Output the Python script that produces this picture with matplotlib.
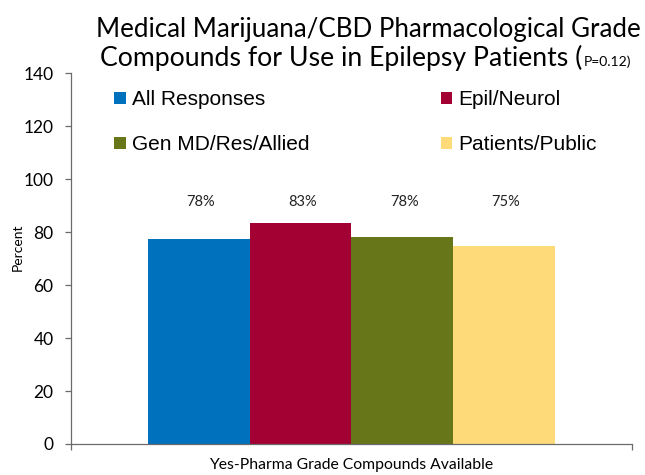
import numpy as np
import matplotlib.pyplot as plt
from matplotlib.patches import Patch

groups = ["All Responses", "Epil/Neurol", "Gen MD/Res/Allied", "Patients/Public"]
values = [77.5, 83.3, 78.1, 74.8]
labels = ["78%", "83%", "78%", "75%"]
category = "Yes-Pharma Grade Compounds Available"
colors = ["#0071BD", "#A30034", "#677619", "#FEDA78"]

AX_COL = "#6b6b6b"
fig = plt.figure(figsize=(6.45, 4.75), dpi=100)
ax = fig.add_axes([0.1096, 0.0653, 0.8705, 0.7802])

x = np.arange(len(groups))
ax.bar(x, values, width=1.0, color=colors, edgecolor="none")
for xi, lab in zip(x, labels):
    ax.text(xi + 0.02, 91.5, lab, ha="center", va="center", fontsize=10.5,
            family="Lato", color="#222222")

ax.set_xlim(-1.26, 4.26)
ax.set_ylim(0, 140)
ax.set_yticks(range(0, 141, 20))
ax.tick_params(axis="y", labelsize=12.5, length=4.3, width=0.9, pad=8, color=AX_COL)
for t in ax.get_yticklabels():
    t.set_family("Lato")
ax.set_xticks([1.5])
ax.set_xticklabels([category], fontsize=11.3, family="Lato")
ax.tick_params(axis="x", which="major", length=0, pad=10)
ax.set_xticks([-1.26, 4.26], minor=True)
ax.tick_params(axis="x", which="minor", length=4.5, width=0.9, color=AX_COL)
ax.set_ylabel("Percent", fontsize=10, family="Lato")
ax.yaxis.set_label_coords(-0.084, 0.53)
ax.spines[["top", "right"]].set_visible(False)
ax.spines["left"].set_color(AX_COL)
ax.spines["bottom"].set_color(AX_COL)
ax.spines["left"].set_linewidth(0.9)
ax.spines["bottom"].set_linewidth(0.9)

# legend rows: All Responses / Epil/Neurol, then Gen MD / Patients
order = [0, 2, 1, 3]
handles = [Patch(facecolor=colors[i], label=groups[i]) for i in order]
leg = ax.legend(handles=handles, ncol=2, loc="upper left", bbox_to_anchor=(0.044, 1.005),
                frameon=False, prop={"family": "Liberation Sans", "size": 15},
                handlelength=0.55, handleheight=0.55, handletextpad=0.3,
                columnspacing=6.3, labelspacing=1.25)

fig.text(0.571, 0.9386, "Medical Marijuana/CBD Pharmacological Grade",
         ha="center", va="center", fontsize=18.6, family="Lato")
fig.text(0.903, 0.861, "Compounds for Use in Epilepsy Patients (",
         ha="right", va="baseline", fontsize=19.2, family="Lato")
fig.text(0.905, 0.861, "P=0.12)", ha="left", va="baseline", fontsize=10, family="Lato")

fig.savefig("out.png", dpi=100)
